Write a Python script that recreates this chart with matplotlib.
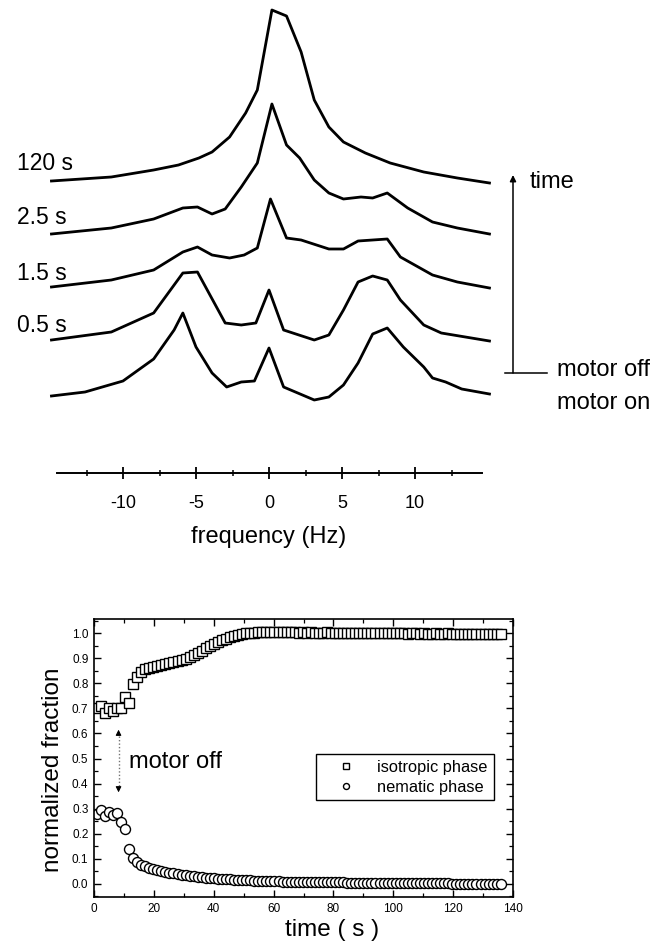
import matplotlib
matplotlib.use("Agg")
from matplotlib import pyplot as plt
from matplotlib.lines import Line2D
from matplotlib.ticker import FixedLocator, MultipleLocator

plt.rcParams["font.family"] = ["Liberation Sans", "DejaVu Sans"]
plt.rcParams["axes.unicode_minus"] = False

# ---- top panel: spectra, frequency (Hz) vs height above each trace's baseline
labels = ["120 s", "2.5 s", "1.5 s", "0.5 s", ""]

freq120 = [-14.9, -10.8, -7.9, -6.2, -4.8, -3.9, -2.7, -1.6, -0.8, 0.2,
           1.2, 2.2, 3.1, 4.1, 5.1, 6.6, 8.3, 10.6, 12.9, 15.1]
amp120 = [1, 5, 12, 17, 24, 30, 45, 69, 92, 172,
          166, 130, 82, 55, 40, 29, 19, 10, 4, -1]

freq25 = [-14.9, -10.8, -7.9, -5.9, -4.9, -3.9, -3.0, -1.9, -0.8, 0.2, 1.2,
          2.1, 3.1, 4.1, 5.1, 6.3, 7.1, 8.1, 9.5, 11.2, 12.9, 15.1]
amp25 = [0, 6, 15, 26, 27, 20, 25, 47, 71, 130, 89,
         76, 54, 41, 35, 37, 36, 41, 26, 12, 6, 0]

freq15 = [-14.9, -10.8, -7.9, -5.9, -4.9, -3.9, -2.7, -1.7, -0.8, 0.1,
          1.2, 2.2, 4.1, 5.1, 6.1, 8.1, 9.0, 11.2, 12.9, 15.1]
amp15 = [0, 7, 17, 35, 40, 32, 29, 32, 39, 88,
         49, 47, 38, 38, 46, 48, 30, 12, 5, -1]

freq05 = [-14.9, -10.8, -7.9, -5.9, -4.9, -3.0, -1.9, -0.9, 0.0, 1.0,
          3.1, 4.1, 5.1, 6.1, 7.1, 8.1, 9.0, 10.6, 11.8, 15.1]
amp05 = [0, 8, 27, 67, 68, 17, 15, 17, 50, 10,
         0, 5, 30, 58, 64, 60, 40, 15, 7, -1]

freq_on = [-14.9, -12.6, -10.0, -7.9, -6.5, -5.9, -5.0, -3.9, -2.9, -1.9, -1.0, 0.0,
           1.0, 3.1, 4.1, 5.1, 6.1, 7.1, 8.1, 9.2, 10.6, 11.2, 12.1, 13.2, 15.1]
amp_on = [0, 4, 15, 37, 66, 83, 49, 23, 9, 14, 15, 48,
          9, -4, -1, 11, 33, 62, 68, 49, 29, 18, 14, 7, 2]

spectra = [(freq120, amp120), (freq25, amp25), (freq15, amp15),
           (freq05, amp05), (freq_on, amp_on)]

# ---- bottom panel: phase fractions vs time (s)
time_s = [0.9, 2.25, 3.6, 4.95, 6.3, 7.65, 9.0, 10.35, 11.7, 13.05,
          14.4, 15.75, 17.1, 18.45, 19.8, 21.15, 22.5, 23.85, 25.2, 26.55,
          27.9, 29.25, 30.6, 31.95, 33.3, 34.65, 36.0, 37.35, 38.7, 40.05,
          41.4, 42.75, 44.1, 45.45, 46.8, 48.15, 49.5, 50.85, 52.2, 53.55,
          54.9, 56.25, 57.6, 58.95, 60.3, 61.65, 63.0, 64.35, 65.7, 67.05,
          68.4, 69.75, 71.1, 72.45, 73.8, 75.15, 76.5, 77.85, 79.2, 80.55,
          81.9, 83.25, 84.6, 85.95, 87.3, 88.65, 90.0, 91.35, 92.7, 94.05,
          95.4, 96.75, 98.1, 99.45, 100.8, 102.15, 103.5, 104.85, 106.2, 107.55,
          108.9, 110.25, 111.6, 112.95, 114.3, 115.65, 117.0, 118.35, 119.7, 121.05,
          122.4, 123.75, 125.1, 126.45, 127.8, 129.15, 130.5, 131.85, 133.2, 134.55,
          135.9]

isotropic = [0.70, 0.71, 0.68, 0.70, 0.69, 0.70, 0.70, 0.745, 0.72, 0.795,
             0.825, 0.845, 0.856, 0.861, 0.865, 0.869, 0.873, 0.876, 0.879, 0.883,
             0.887, 0.892, 0.898, 0.904, 0.911, 0.920, 0.929, 0.939, 0.948, 0.957,
             0.965, 0.972, 0.978, 0.984, 0.988, 0.992, 0.996, 0.999, 1.001, 1.002,
             1.003, 1.003, 1.004, 1.004, 1.004, 1.003, 1.004, 1.003, 1.003, 1.004,
             1.002, 1.003, 1.002, 1.003, 1.002, 1.001, 1.002, 1.003, 1.001, 1.002,
             1.001, 1.002, 1.000, 1.001, 1.002, 1.000, 1.001, 1.000, 1.001, 0.999,
             1.000, 1.001, 0.999, 1.000, 1.000, 0.999, 1.000, 0.998, 0.999, 1.000,
             0.998, 0.999, 0.997, 0.998, 0.999, 0.997, 0.998, 0.999, 0.997, 0.995,
             0.998, 0.996, 0.997, 0.995, 0.997, 0.996, 0.995, 0.997, 0.996, 0.997,
             0.995]

nematic = [0.280, 0.295, 0.270, 0.285, 0.275, 0.282, 0.245, 0.218, 0.140, 0.103,
           0.086, 0.077, 0.070, 0.064, 0.059, 0.055, 0.051, 0.048, 0.045, 0.042,
           0.039, 0.037, 0.035, 0.032, 0.030, 0.028, 0.027, 0.025, 0.024, 0.022,
           0.021, 0.020, 0.019, 0.018, 0.017, 0.016, 0.015, 0.014, 0.014, 0.013,
           0.012, 0.012, 0.011, 0.011, 0.010, 0.010, 0.009, 0.009, 0.009, 0.008,
           0.008, 0.008, 0.008, 0.007, 0.007, 0.007, 0.007, 0.006, 0.006, 0.006,
           0.006, 0.006, 0.005, 0.005, 0.005, 0.005, 0.005, 0.004, 0.004, 0.004,
           0.004, 0.004, 0.004, 0.003, 0.003, 0.003, 0.003, 0.003, 0.003, 0.003,
           0.002, 0.002, 0.002, 0.002, 0.002, 0.002, 0.002, 0.002, 0.001, 0.001,
           0.001, 0.001, 0.001, 0.001, 0.001, 0.001, 0.000, 0.000, 0.000, 0.000,
           0.000]

W, H = 667, 943


def fx(px):
    return px / W


def fy(py):
    return 1 - py / H


fig = plt.figure(figsize=(W / 100, H / 100), dpi=100)

# ---------------- top: stacked spectra
top_h = 480
ax1 = fig.add_axes([0, fy(top_h), 1, top_h / H])
ax1.set_xlim(-269 / 14.6, (W - 269) / 14.6)
ax1.set_ylim(0, top_h)

trace_base = [182, 234, 287, 340, 396]   # baseline pixel row of each trace
label_y = [163, 218, 273, 325, None]

for (fr, amp), base, lab, ly in zip(spectra, trace_base, labels, label_y):
    ax1.plot(fr, [top_h - base + a for a in amp], color="black", lw=2.0,
             clip_on=False)
    if lab:
        fig.text(fx(17), fy(ly), lab, fontsize=16.5, ha="left", va="center")

for side in ["top", "left", "right"]:
    ax1.spines[side].set_visible(False)
ax1.spines["bottom"].set_position(("data", top_h - 473))
ax1.spines["bottom"].set_bounds(-14.5, 14.6)
ax1.spines["bottom"].set_linewidth(1.4)
ax1.set_yticks([])
ax1.set_xticks([-10, -5, 0, 5, 10])
ax1.xaxis.set_minor_locator(FixedLocator([-12.5, -7.5, -2.5, 2.5, 7.5, 12.5]))
ax1.tick_params(axis="x", which="major", direction="inout", length=8,
                width=1.3, labelsize=13, pad=12)
ax1.tick_params(axis="x", which="minor", direction="inout", length=4.5,
                width=1.1)
fig.text(fx(269), fy(537), "frequency (Hz)", fontsize=17,
         ha="center", va="center")

# time arrow and motor on/off marks
ax1.annotate("", xy=(fx(513), fy(175)), xytext=(fx(513), fy(373)),
             xycoords="figure fraction", textcoords="figure fraction",
             arrowprops=dict(arrowstyle="-|>", lw=1.1, color="black",
                             mutation_scale=9, shrinkA=0, shrinkB=0))
fig.add_artist(Line2D([fx(505), fx(547)], [fy(373), fy(373)],
                      lw=1.1, color="black"))
fig.text(fx(530), fy(182), "time", fontsize=17, ha="left", va="center")
fig.text(fx(557), fy(370), "motor off", fontsize=17, ha="left", va="center")
fig.text(fx(557), fy(403), "motor on", fontsize=17, ha="left", va="center")

# ---------------- bottom: normalized fractions
ax2 = fig.add_axes([fx(94), fy(897), 419 / W, 278 / H])
ax2.plot(time_s, isotropic, ls="none", marker="s", ms=7.2, mfc="white",
         mec="black", mew=1.0, label="isotropic phase")
ax2.plot(time_s, nematic, ls="none", marker="o", ms=7.2, mfc="white",
         mec="black", mew=1.0, label="nematic phase")

ax2.set_xlim(0, 140)
ax2.set_ylim(-0.052, 1.056)
ax2.xaxis.set_major_locator(MultipleLocator(20))
ax2.xaxis.set_minor_locator(MultipleLocator(10))
ax2.yaxis.set_major_locator(MultipleLocator(0.1))
ax2.yaxis.set_minor_locator(MultipleLocator(0.05))
ax2.yaxis.set_major_formatter(plt.FormatStrFormatter("%.1f"))
ax2.tick_params(which="both", direction="in", top=True, right=True,
                labelsize=8.5, pad=4)
ax2.tick_params(which="major", length=5, width=1)
ax2.tick_params(which="minor", length=3, width=0.9)
for sp in ax2.spines.values():
    sp.set_linewidth(1.2)

fig.text(fx(53), fy(770), "normalized fraction", fontsize=17.5,
         rotation=90, ha="center", va="center")
fig.text(fx(332), fy(930), "time ( s )", fontsize=17.5,
         ha="center", va="center")

# motor off marker
ax2.plot([8.2, 8.2], [0.39, 0.59], ls=(0, (1, 1.5)), color="0.45", lw=1)
ax2.annotate("", xy=(8.2, 0.615), xytext=(8.2, 0.595),
             arrowprops=dict(arrowstyle="-|>", color="black", lw=0.8,
                             mutation_scale=8, shrinkA=0, shrinkB=0))
ax2.annotate("", xy=(8.2, 0.365), xytext=(8.2, 0.385),
             arrowprops=dict(arrowstyle="-|>", color="black", lw=0.8,
                             mutation_scale=8, shrinkA=0, shrinkB=0))
ax2.text(11.7, 0.486, "motor off", fontsize=17, ha="left", va="center")

leg = ax2.legend(loc="upper left", bbox_to_anchor=(fx(316), fy(754)),
                 bbox_transform=fig.transFigure, borderaxespad=0,
                 fontsize=11.8, markerscale=0.6, fancybox=False,
                 edgecolor="black", framealpha=1, borderpad=0.35,
                 labelspacing=0.3, handlelength=3.0, handletextpad=0.4)
leg.get_frame().set_linewidth(1.0)

fig.savefig("out.png", dpi=100)
